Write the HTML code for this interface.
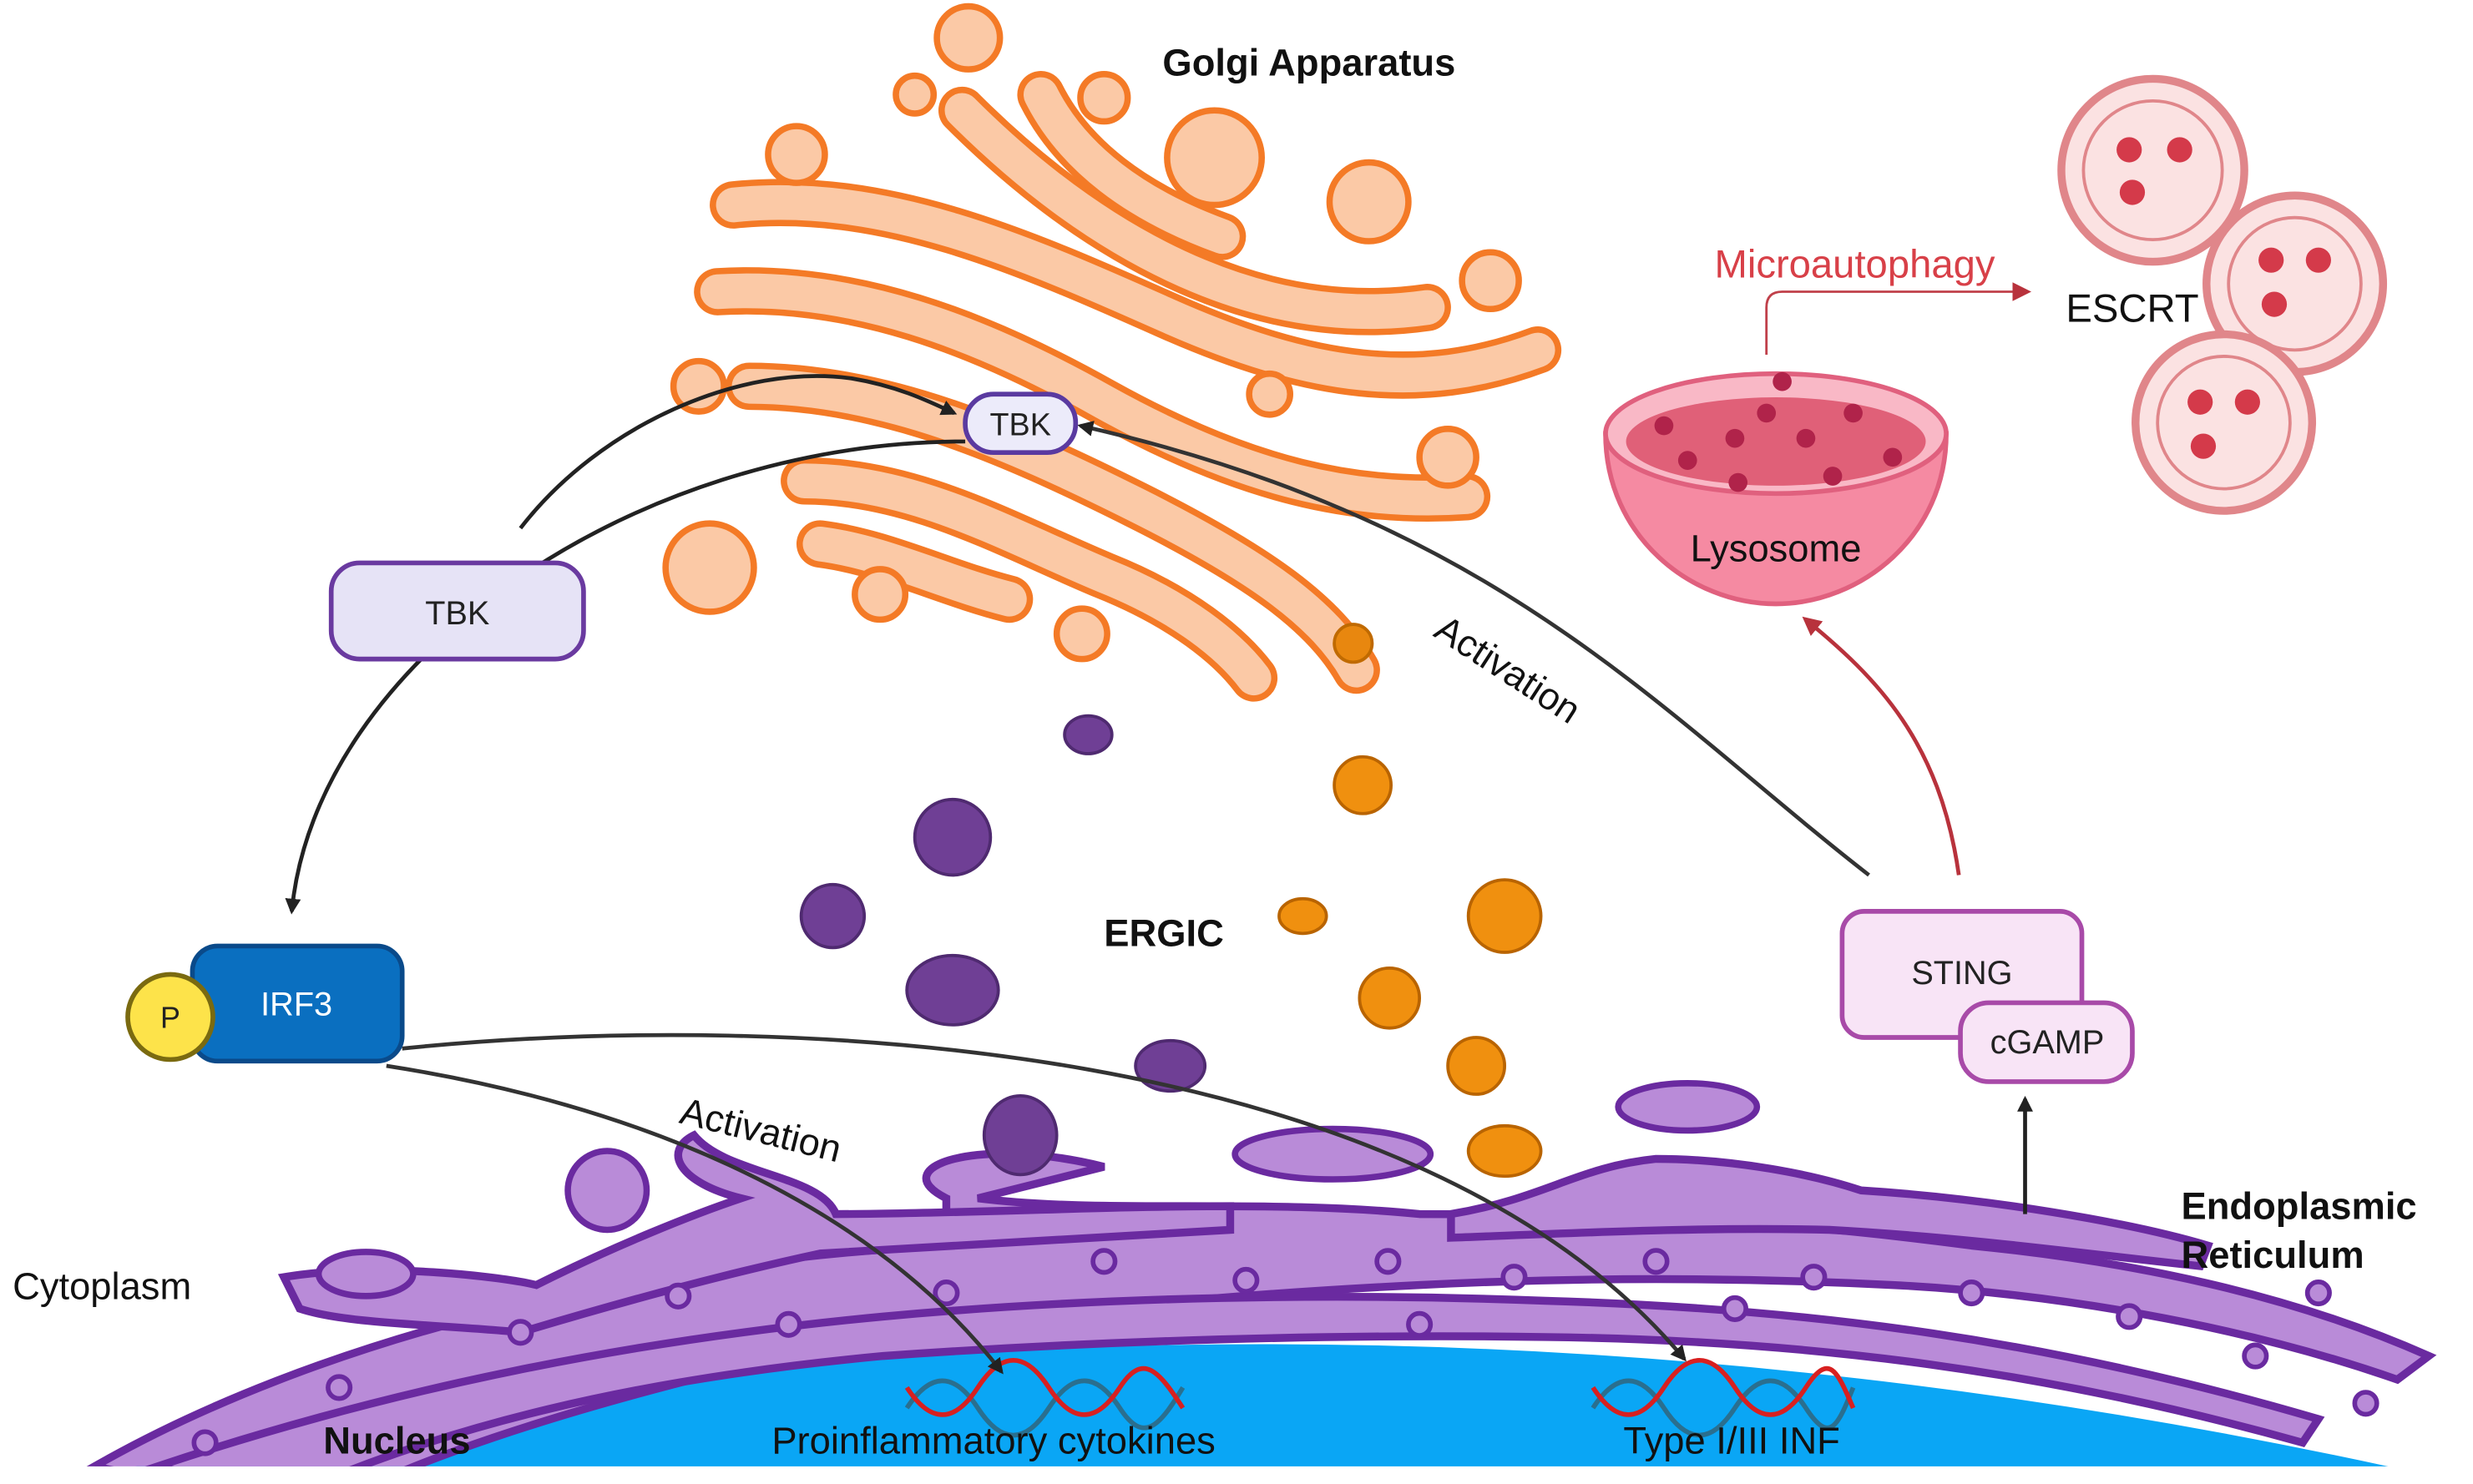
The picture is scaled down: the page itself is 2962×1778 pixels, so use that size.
<!DOCTYPE html>
<html><head><meta charset="utf-8"><style>
html,body{margin:0;padding:0;background:#fff;width:2962px;height:1778px;overflow:hidden}
svg{display:block}
text{font-family:"Liberation Sans",sans-serif}
</style></head><body>
<svg width="2962" height="1778" viewBox="0 0 1568 941.2" preserveAspectRatio="none" xmlns="http://www.w3.org/2000/svg">
<defs>
<marker id="ah" markerWidth="10" markerHeight="10" refX="8" refY="5" orient="auto" markerUnits="userSpaceOnUse"><path d="M0,0 L10,5 L0,10 z" fill="#222"/></marker>
<marker id="ahr" markerWidth="12" markerHeight="12" refX="9" refY="6" orient="auto" markerUnits="userSpaceOnUse"><path d="M0,0 L12,6 L0,12 z" fill="#b8323c"/></marker>
<clipPath id="c"><rect x="0" y="0" width="1568" height="930"/></clipPath>
</defs>
<g clip-path="url(#c)">
<!-- nucleus -->
<path d="M20,945 Q800,760 1580,945 Z" fill="#0aa6f5"/>
<!-- ER -->
<g fill="#b98bd8" stroke="#6a2aa0" stroke-width="5">
<path d="M60,930 C200,850 400,800 600,790 L600,760 C560,740 620,720 700,740 L620,760 C700,770 800,760 900,770 C1000,770 1100,770 1250,790 C1350,800 1450,820 1540,860 L1520,875 C1420,840 1300,820 1200,815 C1100,810 1000,810 900,815 C800,820 650,830 500,860 C350,895 250,930 200,960 Z"/>
<path d="M100,930 C250,880 400,850 560,835 C700,822 850,820 980,825 C1150,830 1300,850 1470,900 L1460,915 C1300,870 1150,850 980,848 C850,846 700,850 560,860 C400,875 280,905 180,950 Z"/>
<path d="M180,810 C240,800 320,810 340,815 C390,790 440,770 470,760 C430,750 420,730 440,720 C460,745 520,745 530,770 C600,770 700,765 780,765 L780,780 C700,785 600,790 520,795 C450,810 380,830 330,845 C280,840 220,840 190,830 Z"/>
<path d="M920,770 C980,760 1000,740 1050,735 C1100,735 1150,745 1180,755 C1260,760 1350,775 1400,790 L1395,803 C1320,795 1250,785 1160,780 C1080,778 1000,782 920,785 Z"/>
</g>
<g fill="#b98bd8" stroke="#6a2aa0" stroke-width="4">
<ellipse cx="232" cy="808" rx="30" ry="14"/>
<ellipse cx="845" cy="732" rx="62" ry="16"/>
<ellipse cx="1070" cy="702" rx="44" ry="15"/>
<circle cx="385" cy="755" r="25"/>
</g>
<g fill="#b98bd8" stroke="#6a2aa0" stroke-width="3">
<circle cx="130" cy="915" r="7"/><circle cx="215" cy="880" r="7"/><circle cx="330" cy="845" r="7"/><circle cx="430" cy="822" r="7"/><circle cx="500" cy="840" r="7"/><circle cx="600" cy="820" r="7"/><circle cx="700" cy="800" r="7"/><circle cx="790" cy="812" r="7"/><circle cx="880" cy="800" r="7"/><circle cx="960" cy="810" r="7"/><circle cx="1050" cy="800" r="7"/><circle cx="1150" cy="810" r="7"/><circle cx="1250" cy="820" r="7"/><circle cx="1350" cy="835" r="7"/><circle cx="1430" cy="860" r="7"/><circle cx="1500" cy="890" r="7"/><circle cx="1470" cy="820" r="7"/><circle cx="1100" cy="830" r="7"/><circle cx="900" cy="840" r="7"/>
</g>
</g>
<!-- Golgi tubes -->
<g fill="none" stroke-linecap="round">
<g stroke="#f47a26" stroke-width="30">
<path id="g1" d="M465,130 C560,120 650,160 740,200 C830,240 900,250 975,222"/>
<path d="M455,185 C540,180 620,210 700,255 C790,305 860,320 930,315"/>
<path d="M475,245 C560,245 640,280 720,320 C800,360 840,390 860,425"/>
<path d="M510,305 C580,305 640,340 700,365 C750,385 780,410 795,430"/>
<path d="M610,70 C650,110 700,150 760,175 C820,200 870,200 905,195"/>
<path d="M660,60 C680,100 720,130 775,150"/>
<path d="M520,345 C560,350 600,370 640,380"/>
</g>
<g stroke="#fbc9a6" stroke-width="22">
<path d="M465,130 C560,120 650,160 740,200 C830,240 900,250 975,222"/>
<path d="M455,185 C540,180 620,210 700,255 C790,305 860,320 930,315"/>
<path d="M475,245 C560,245 640,280 720,320 C800,360 840,390 860,425"/>
<path d="M510,305 C580,305 640,340 700,365 C750,385 780,410 795,430"/>
<path d="M610,70 C650,110 700,150 760,175 C820,200 870,200 905,195"/>
<path d="M660,60 C680,100 720,130 775,150"/>
<path d="M520,345 C560,350 600,370 640,380"/>
</g>
</g>
<g fill="#fbc9a6" stroke="#f47a26" stroke-width="4">
<circle cx="614" cy="24" r="20"/><circle cx="700" cy="62" r="15"/><circle cx="505" cy="98" r="18"/><circle cx="770" cy="100" r="30"/><circle cx="868" cy="128" r="25"/><circle cx="945" cy="178" r="18"/><circle cx="443" cy="245" r="16"/><circle cx="450" cy="360" r="28"/><circle cx="558" cy="377" r="16"/><circle cx="686" cy="402" r="16"/><circle cx="918" cy="290" r="18"/><circle cx="805" cy="250" r="13"/><circle cx="580" cy="60" r="12"/>
</g>
<circle cx="858" cy="408" r="12" fill="#e8870f" stroke="#c06a00" stroke-width="2"/>
<!-- vesicles -->
<g fill="#6f3f95" stroke="#4f2a70" stroke-width="2">
<ellipse cx="690" cy="466" rx="15" ry="12"/><circle cx="604" cy="531" r="24"/><circle cx="528" cy="581" r="20"/><ellipse cx="604" cy="628" rx="29" ry="22"/><ellipse cx="742" cy="676" rx="22" ry="16"/><ellipse cx="647" cy="720" rx="23" ry="25"/>
</g>
<g fill="#f0900f" stroke="#b96400" stroke-width="2">
<circle cx="864" cy="498" r="18"/><ellipse cx="826" cy="581" rx="15" ry="11"/><circle cx="954" cy="581" r="23"/><circle cx="881" cy="633" r="19"/><circle cx="936" cy="676" r="18"/><ellipse cx="954" cy="730" rx="23" ry="16"/>
</g>
<!-- ESCRT -->
<g fill="#fbe2e2" stroke="#e0868a" stroke-width="5">
<circle cx="1365" cy="108" r="58"/><circle cx="1455" cy="180" r="56"/><circle cx="1410" cy="268" r="56"/>
</g>
<g fill="none" stroke="#e0868a" stroke-width="2">
<circle cx="1365" cy="108" r="44"/><circle cx="1455" cy="180" r="42"/><circle cx="1410" cy="268" r="42"/>
</g>
<g fill="#d43a4a">
<circle cx="1350" cy="95" r="8"/><circle cx="1382" cy="95" r="8"/><circle cx="1352" cy="122" r="8"/><circle cx="1440" cy="165" r="8"/><circle cx="1470" cy="165" r="8"/><circle cx="1442" cy="193" r="8"/><circle cx="1395" cy="255" r="8"/><circle cx="1425" cy="255" r="8"/><circle cx="1397" cy="283" r="8"/>
</g>
<!-- Lysosome -->
<path d="M1018,275 L1234,275 C1234,340 1180,383 1126,383 C1072,383 1018,340 1018,275 Z" fill="#f58aa2" stroke="#e0607e" stroke-width="3"/>
<ellipse cx="1126" cy="275" rx="108" ry="38" fill="#f9b8c6" stroke="#e0607e" stroke-width="3"/>
<ellipse cx="1126" cy="280" rx="95" ry="28" fill="#e06078"/>
<g fill="#b0234a"><circle cx="1130" cy="242" r="6"/><circle cx="1055" cy="270" r="6"/><circle cx="1100" cy="278" r="6"/><circle cx="1145" cy="278" r="6"/><circle cx="1175" cy="262" r="6"/><circle cx="1070" cy="292" r="6"/><circle cx="1102" cy="306" r="6"/><circle cx="1162" cy="302" r="6"/><circle cx="1200" cy="290" r="6"/><circle cx="1120" cy="262" r="6"/></g>
<!-- DNA -->
<g fill="none" stroke-width="3">
<path d="M575,893 C590,870 605,870 620,893 S650,916 665,893 S695,870 710,893 S735,905 750,880" stroke="#2a6f8f"/>
<path d="M575,880 C590,903 605,903 620,880 S650,857 665,880 S695,903 710,880 S735,870 750,893" stroke="#d82020"/>
<path d="M1010,893 C1025,870 1040,870 1055,893 S1085,916 1100,893 S1130,870 1145,893 S1165,905 1175,880" stroke="#2a6f8f"/>
<path d="M1010,880 C1025,903 1040,903 1055,880 S1085,857 1100,880 S1130,903 1145,880 S1165,870 1175,893" stroke="#d82020"/>
</g>
<!-- arrows -->
<g fill="none" stroke-width="2.5">
<path d="M330,335 C380,270 470,230 540,240 C570,245 590,255 605,262" stroke="#222" marker-end="url(#ah)"/>
<path d="M612,280 C400,280 200,420 185,578" stroke="#222" marker-end="url(#ah)"/>
<path d="M1185,555 C1050,450 950,330 685,270" stroke="#333" marker-end="url(#ah)"/>
<path d="M245,676 C400,700 550,760 635,870" stroke="#333" marker-end="url(#ah)"/>
<path d="M255,665 C500,640 900,660 1068,862" stroke="#333" marker-end="url(#ah)"/>
<path d="M1242,555 C1230,470 1190,430 1145,393" stroke="#b8323c" marker-end="url(#ahr)"/>
<path d="M1120,225 L1120,195 Q1120,185 1130,185 L1285,185" stroke="#c0404a" stroke-width="1.5" marker-end="url(#ahr)"/>
<path d="M1284,770 L1284,697" stroke="#222" marker-end="url(#ah)"/>
</g>
<!-- boxes -->
<rect x="210" y="357" width="160" height="61" rx="18" fill="#e6e3f6" stroke="#6a3aa0" stroke-width="3"/>
<text x="290" y="396" font-size="21" text-anchor="middle" fill="#222">TBK</text>
<rect x="612" y="250" width="70" height="37" rx="18" fill="#ecebfa" stroke="#5a3aa0" stroke-width="3"/>
<text x="647" y="276" font-size="20" text-anchor="middle" fill="#222">TBK</text>
<rect x="122" y="600" width="133" height="73" rx="16" fill="#0a6fc0" stroke="#0a4a8a" stroke-width="3"/>
<text x="188" y="644" font-size="21" text-anchor="middle" fill="#fff">IRF3</text>
<circle cx="108" cy="645" r="27" fill="#fde34a" stroke="#7a6a10" stroke-width="3"/>
<text x="108" y="652" font-size="19" text-anchor="middle" fill="#222">P</text>
<rect x="1168" y="578" width="152" height="80" rx="14" fill="#f8e4f6" stroke="#a84aa8" stroke-width="3"/>
<text x="1244" y="624" font-size="21" text-anchor="middle" fill="#222">STING</text>
<rect x="1243" y="636" width="109" height="50" rx="18" fill="#f8e4f6" stroke="#a84aa8" stroke-width="3"/>
<text x="1298" y="668" font-size="21" text-anchor="middle" fill="#222">cGAMP</text>
<!-- labels -->
<text x="830" y="48" font-size="24" font-weight="bold" text-anchor="middle" fill="#111">Golgi Apparatus</text>
<text x="738" y="600" font-size="24" font-weight="bold" text-anchor="middle" fill="#111">ERGIC</text>
<text x="1176" y="176" font-size="25" text-anchor="middle" fill="#d84048">Microautophagy</text>
<text x="1352" y="204" font-size="25" text-anchor="middle" fill="#111">ESCRT</text>
<text x="1126" y="356" font-size="24" text-anchor="middle" fill="#111">Lysosome</text>
<text x="1383" y="773" font-size="24" font-weight="bold" fill="#111">Endoplasmic</text>
<text x="1383" y="804" font-size="24" font-weight="bold" fill="#111">Reticulum</text>
<text x="8" y="824" font-size="24" fill="#111">Cytoplasm</text>
<text x="205" y="922" font-size="24" font-weight="bold" fill="#111">Nucleus</text>
<text x="630" y="922" font-size="24" text-anchor="middle" fill="#111">Proinflammatory cytokines</text>
<text x="1098" y="922" font-size="24" text-anchor="middle" fill="#111">Type I/III INF</text>
<text x="0" y="0" font-size="24" fill="#111" transform="translate(908,403) rotate(33)">Activation</text>
<text x="0" y="0" font-size="24" fill="#111" transform="translate(430,712) rotate(14)">Activation</text>
</svg>
</body></html>
